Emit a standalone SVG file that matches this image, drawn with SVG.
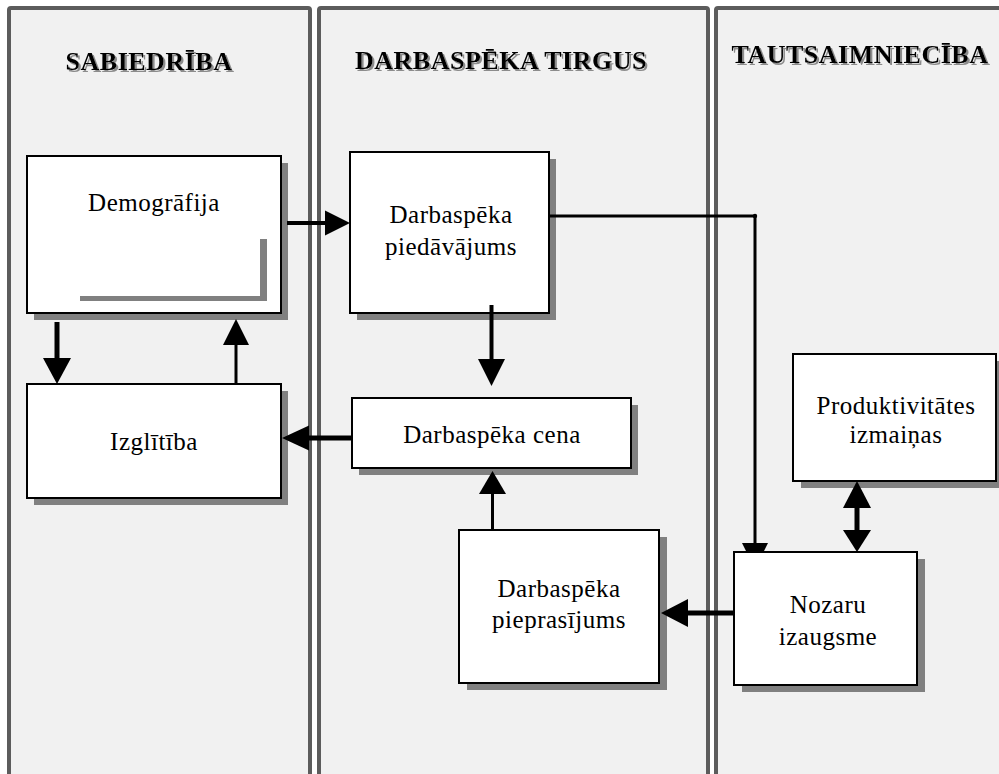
<svg xmlns="http://www.w3.org/2000/svg" width="999" height="774" viewBox="0 0 999 774">
  <defs>
    <filter id="textShadow" x="-5%" y="-20%" width="110%" height="150%">
      <feDropShadow dx="2" dy="2" stdDeviation="0.7" flood-color="#8c8c8c" flood-opacity="1"/>
    </filter>
  </defs>
  <style>
    .panel { fill: #f1f1f1; stroke: #5c5c5c; stroke-width: 4; }
    .head { font-family: "Liberation Serif", "Times New Roman", serif; font-weight: bold; font-size: 26px; letter-spacing: 0.5px; text-anchor: middle; fill: #000; filter: url(#textShadow); }
    .box { fill: #fff; stroke: #000; stroke-width: 2; }
    .shadow { fill: #808080; }
    .label { font-family: "Liberation Serif", "Times New Roman", serif; font-size: 25px; letter-spacing: 0.5px; fill: #000; text-anchor: middle; }
    .wire { stroke: #000; fill: none; }
    .tip { fill: #000; }
  </style>

  <rect width="999" height="774" fill="#fff"/>

  <!-- three swimlanes -->
  <g id="lanes">
    <rect class="panel" x="9" y="8" width="301" height="772" rx="2"/>
    <rect class="panel" x="319" y="8" width="389" height="772" rx="2"/>
    <rect class="panel" x="716" y="8" width="300" height="772" rx="2"/>
    <text class="head" x="149" y="70">SABIEDRĪBA</text>
    <text class="head" x="501" y="69">DARBASPĒKA TIRGUS</text>
    <text class="head" x="860" y="63">TAUTSAIMNIECĪBA</text>
  </g>

  <g id="demografija">
    <rect class="shadow" x="34" y="163" width="254" height="157"/>
    <rect class="box" x="27" y="156" width="254" height="157"/>
    <path class="shadow" d="M260,239 H267 V301 H80 V296 H260 Z"/>
    <text class="label" x="154" y="211">Demogrāfija</text>
  </g>

  <g id="izglitiba">
    <rect class="shadow" x="34" y="391" width="254" height="114"/>
    <rect class="box" x="27" y="384" width="254" height="114"/>
    <text class="label" x="154" y="450">Izglītība</text>
  </g>

  <g id="piedavajums">
    <rect class="shadow" x="357" y="159" width="199" height="161"/>
    <rect class="box" x="350" y="152" width="199" height="161"/>
    <text class="label" x="451" y="223">Darbaspēka</text>
    <text class="label" x="451" y="255">piedāvājums</text>
  </g>

  <g id="cena">
    <rect class="shadow" x="359" y="405" width="279" height="70"/>
    <rect class="box" x="352" y="398" width="279" height="70"/>
    <text class="label" x="492" y="443">Darbaspēka cena</text>
  </g>

  <g id="pieprasijums">
    <rect class="shadow" x="467" y="537" width="200" height="153"/>
    <rect class="box" x="459" y="530" width="200" height="153"/>
    <text class="label" x="559" y="597">Darbaspēka</text>
    <text class="label" x="559" y="628">pieprasījums</text>
  </g>

  <g id="produktivitate">
    <rect class="shadow" x="801" y="361" width="203" height="127"/>
    <rect class="box" x="793" y="354" width="203" height="127"/>
    <text class="label" x="896" y="414">Produktivitātes</text>
    <text class="label" x="896" y="443">izmaiņas</text>
  </g>

  <g id="nozaru">
    <rect class="shadow" x="742" y="559" width="183" height="133"/>
    <rect class="box" x="734" y="552" width="183" height="133"/>
    <text class="label" x="828" y="613">Nozaru</text>
    <text class="label" x="828" y="645">izaugsme</text>
  </g>

  <g id="connectors">
    <!-- Demogrāfija to supply -->
    <line class="wire" x1="287" y1="223" x2="326" y2="223" stroke-width="4"/>
    <polygon class="tip" points="350,223 325,210.5 325,235.5"/>
    <!-- Demogrāfija to Izglītība -->
    <line class="wire" x1="57" y1="322" x2="57" y2="360" stroke-width="5"/>
    <polygon class="tip" points="57,384 43,358 71,358"/>
    <!-- Izglītība back to Demogrāfija -->
    <line class="wire" x1="236" y1="384" x2="236" y2="344" stroke-width="3"/>
    <polygon class="tip" points="236,319 223,345 249,345"/>
    <!-- price to Izglītība -->
    <line class="wire" x1="352" y1="438" x2="308" y2="438" stroke-width="5"/>
    <polygon class="tip" points="282,438 309,425.5 309,450.5"/>
    <!-- supply to price -->
    <line class="wire" x1="491.5" y1="305" x2="491.5" y2="361" stroke-width="4"/>
    <polygon class="tip" points="491.5,386 478,359 505,359"/>
    <!-- demand to price -->
    <line class="wire" x1="492.5" y1="530" x2="492.5" y2="493" stroke-width="3"/>
    <polygon class="tip" points="492.5,471 479,494 506,494"/>
    <!-- Nozaru izaugsme to demand -->
    <line class="wire" x1="734" y1="613" x2="686" y2="613" stroke-width="5"/>
    <polygon class="tip" points="661,613 688,599 688,627"/>
    <!-- productivity two-way link -->
    <line class="wire" x1="857" y1="506" x2="857" y2="532" stroke-width="5"/>
    <polygon class="tip" points="857,481 843,508 871,508"/>
    <polygon class="tip" points="857,552 843,530 871,530"/>
    <!-- supply to Nozaru izaugsme -->
    <polyline class="wire" points="549,216 755,216 755,544" stroke-width="3" stroke-linejoin="round"/>
    <circle class="tip" cx="755" cy="216" r="2.2"/>
    <polygon class="tip" points="742,543 768,543 763.5,552 746.5,552"/>
  </g>
</svg>
